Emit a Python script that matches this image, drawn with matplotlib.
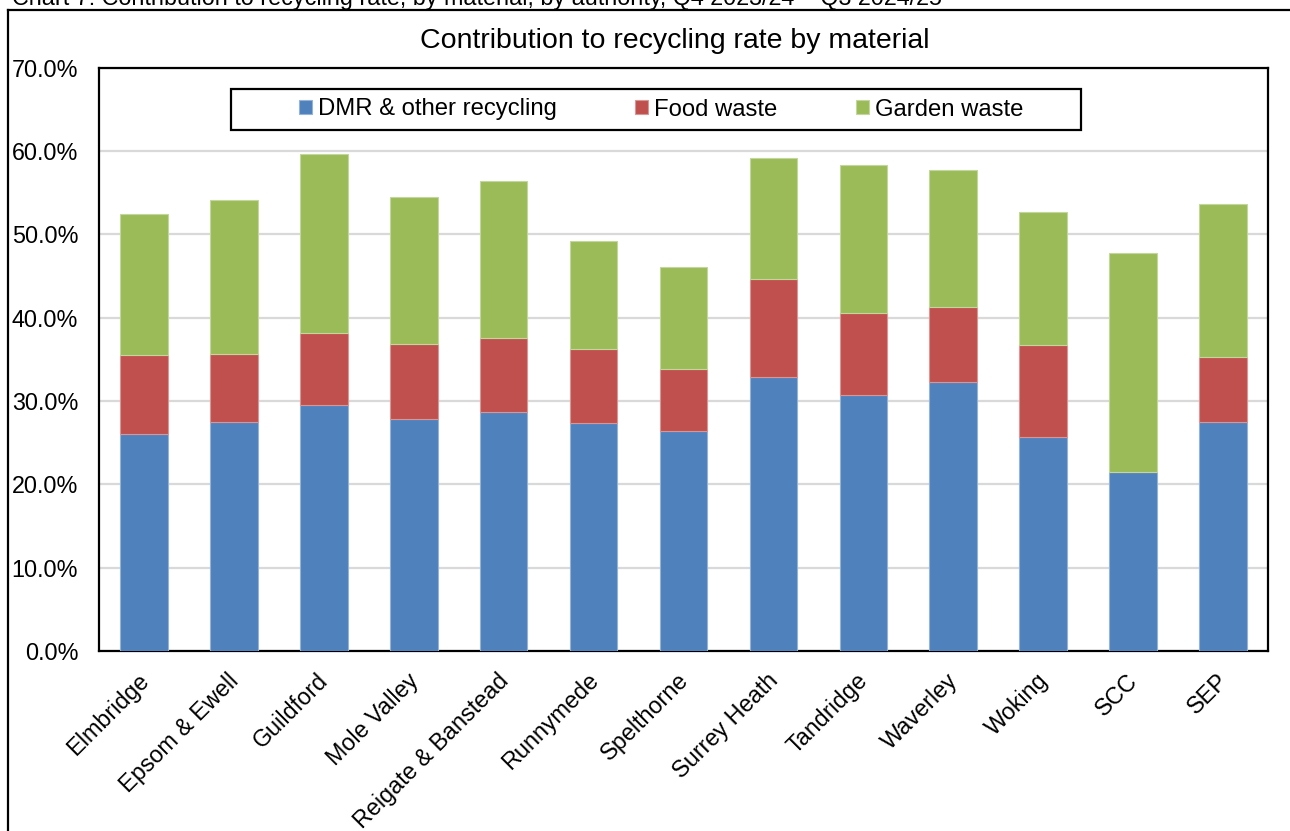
import numpy as np
import matplotlib
matplotlib.use('Agg')
import matplotlib.pyplot as plt
import matplotlib.transforms as mtrans
from matplotlib.lines import Line2D
from matplotlib.patches import Rectangle
from matplotlib.ticker import PercentFormatter

plt.rcParams['font.family'] = ['Liberation Sans', 'DejaVu Sans']

authorities = ['Elmbridge', 'Epsom & Ewell', 'Guildford', 'Mole Valley',
               'Reigate & Banstead', 'Runnymede', 'Spelthorne', 'Surrey Heath',
               'Tandridge', 'Waverley', 'Woking', 'SCC', 'SEP']
# cumulative tops (%)
dmr_top = [26.1, 27.5, 29.5, 27.9, 28.7, 27.4, 26.4, 32.9, 30.7, 32.3, 25.7, 21.5, 27.5]
food_top = [35.5, 35.7, 38.2, 36.9, 37.6, 36.2, 33.9, 44.7, 40.6, 41.3, 36.7, 21.5, 35.3]
garden_top = [52.4, 54.1, 59.7, 54.5, 56.4, 49.2, 46.1, 59.2, 58.3, 57.7, 52.7, 47.8, 53.7]

dmr = np.array(dmr_top)
food = np.array(food_top) - dmr
garden = np.array(garden_top) - np.array(food_top)

c_blue, c_red, c_green = '#4F81BD', '#C0504D', '#9BBB59'
W, H = 1290, 831

fig = plt.figure(figsize=(12.9, 8.31), dpi=100)
ax = fig.add_axes([99/W, 1-651/H, (1268-99)/W, (651-67.7)/H])

x = np.arange(len(authorities))
bw = 0.53
ax.bar(x, dmr, bw, color=c_blue, edgecolor='#95B3D7', lw=0.8, label='DMR & other recycling', zorder=3)
ax.bar(x, food, bw, bottom=dmr, color=c_red, edgecolor='#D99694', lw=0.8, label='Food waste', zorder=3)
ax.bar(x, garden, bw, bottom=np.array(food_top), color=c_green, edgecolor='#C3D69B', lw=0.8,
       label='Garden waste', zorder=3)

ax.set_xlim(-0.5, len(authorities)-0.5)
ax.set_ylim(0, 70)
ax.set_yticks(np.arange(0, 71, 10))
ax.yaxis.set_major_formatter(PercentFormatter(decimals=1))
ax.yaxis.grid(True, color='#D9D9D9', lw=1.6, zorder=0)
ax.set_xticks(x)
ax.set_xticklabels(authorities, rotation=45, ha='right', rotation_mode='anchor')
ax.tick_params(axis='y', length=0, pad=15, labelsize=16.8)
ax.tick_params(axis='x', length=0, pad=13, labelsize=16.8)
shift = mtrans.ScaledTranslation(-0.07, 0, fig.dpi_scale_trans)
for lab in ax.get_xticklabels():
    lab.set_transform(lab.get_transform() + shift)
for s in ax.spines.values():
    s.set_linewidth(1.6)
    s.set_color('black')

fig.text(675/W, 1-38/H, 'Contribution to recycling rate by material', ha='center', va='center_baseline',
         fontsize=20.5)

# legend with a separate frame
fig.patches.append(Rectangle((231/W, 1-130/H), (1081-231)/W, 41/H, transform=fig.transFigure,
                             fill=False, edgecolor='black', lw=1.6, figure=fig))
fig.legend(loc='center', bbox_to_anchor=(661/W, 1-109.5/H), ncol=3, frameon=False, fontsize=17.2,
           handlelength=0.55, handleheight=0.55, handletextpad=0.23, columnspacing=3.3)

# outer frame of the chart object
fig.add_artist(Line2D([8/W, 8/W], [0, 1-10/H], color='black', lw=1.6, transform=fig.transFigure))
fig.add_artist(Line2D([8/W, 1], [1-10/H, 1-10/H], color='black', lw=1.6, transform=fig.transFigure))

fig.text(12/W, 1-5/H, 'Chart 7: Contribution to recycling rate, by material, by authority, Q4 2023/24 \u2013 Q3 2024/25',
         ha='left', va='baseline', fontsize=16.8)

fig.savefig('out.png', dpi=100)
